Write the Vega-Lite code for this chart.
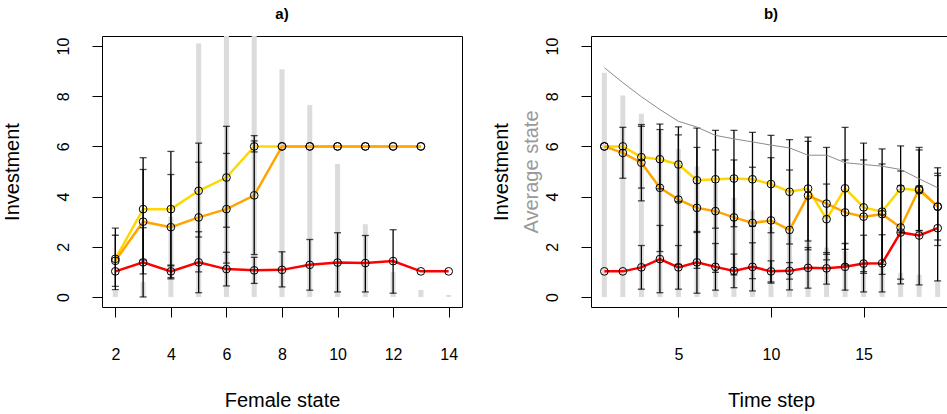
{
  "$schema": "https://vega.github.io/schema/vega-lite/v6.json",
  "padding": {"left": 1, "top": 6, "right": 0, "bottom": 0},
  "bounds": "flush",
  "spacing": 129,
  "config": {
    "view": {"stroke": "black", "strokeWidth": 1},
    "font": "Liberation Sans",
    "axis": {"domain": false, "grid": false, "tickColor": "black", "tickSize": 10, "tickWidth": 1,
      "labelFont": "Liberation Sans", "labelFontSize": 16, "labelColor": "black",
      "titleFont": "Liberation Sans", "titleFontSize": 20, "titleFontWeight": "normal", "titleColor": "black"},
    "axisX": {"labelPadding": 29, "titlePadding": 28},
    "axisY": {"labelAngle": 270, "labelAlign": "center", "labelBaseline": "bottom", "labelPadding": 21, "titlePadding": 33},
    "title": {"font": "Liberation Sans", "fontSize": 15, "fontWeight": "bold", "color": "black", "offset": 14}
  },
  "datasets": {
    "barsA": [
      {"x": 2, "v": 0.25}, {"x": 3, "v": 0.6}, {"x": 4, "v": 3.2}, {"x": 5, "v": 10.1}, {"x": 6, "v": 11}, {"x": 7, "v": 11},
      {"x": 8, "v": 9.07}, {"x": 9, "v": 7.65}, {"x": 10, "v": 5.3}, {"x": 11, "v": 2.9}, {"x": 12, "v": 1.0}, {"x": 13, "v": 0.28}, {"x": 14, "v": 0.08}
    ],
    "linesA": [
      {"s": "y", "x": 2, "v": 1.52}, {"s": "y", "x": 3, "v": 3.5}, {"s": "y", "x": 4, "v": 3.5}, {"s": "y", "x": 5, "v": 4.23}, {"s": "y", "x": 6, "v": 4.76}, {"s": "y", "x": 7, "v": 6}, {"s": "y", "x": 8, "v": 6}, {"s": "y", "x": 9, "v": 6}, {"s": "y", "x": 10, "v": 6}, {"s": "y", "x": 11, "v": 6}, {"s": "y", "x": 12, "v": 6}, {"s": "y", "x": 13, "v": 6},
      {"s": "o", "x": 2, "v": 1.44}, {"s": "o", "x": 3, "v": 3.0}, {"s": "o", "x": 4, "v": 2.78}, {"s": "o", "x": 5, "v": 3.17}, {"s": "o", "x": 6, "v": 3.5}, {"s": "o", "x": 7, "v": 4.05}, {"s": "o", "x": 8, "v": 6}, {"s": "o", "x": 9, "v": 6}, {"s": "o", "x": 10, "v": 6}, {"s": "o", "x": 11, "v": 6}, {"s": "o", "x": 12, "v": 6}, {"s": "o", "x": 13, "v": 6},
      {"s": "r", "x": 2, "v": 1.02}, {"s": "r", "x": 3, "v": 1.38}, {"s": "r", "x": 4, "v": 1.02}, {"s": "r", "x": 5, "v": 1.38}, {"s": "r", "x": 6, "v": 1.11}, {"s": "r", "x": 7, "v": 1.06}, {"s": "r", "x": 8, "v": 1.08}, {"s": "r", "x": 9, "v": 1.28}, {"s": "r", "x": 10, "v": 1.37}, {"s": "r", "x": 11, "v": 1.35}, {"s": "r", "x": 12, "v": 1.43}, {"s": "r", "x": 13, "v": 1.02}, {"s": "r", "x": 14, "v": 1.02}
    ],
    "errA": [
      {"x": 2, "lo": 0.29, "hi": 2.74}, {"x": 2, "lo": 0.42, "hi": 2.46},
      {"x": 3, "lo": 1.47, "hi": 5.55}, {"x": 3, "lo": 0.92, "hi": 5.08}, {"x": 3, "lo": 0.0, "hi": 2.76},
      {"x": 4, "lo": 1.24, "hi": 5.8}, {"x": 4, "lo": 0.72, "hi": 4.88}, {"x": 4, "lo": 0.77, "hi": 1.27},
      {"x": 5, "lo": 2.39, "hi": 6.13}, {"x": 5, "lo": 1.0, "hi": 5.37}, {"x": 5, "lo": 0.17, "hi": 2.6},
      {"x": 6, "lo": 2.78, "hi": 6.8}, {"x": 6, "lo": 1.35, "hi": 5.72}, {"x": 6, "lo": 0.44, "hi": 1.78},
      {"x": 7, "lo": 5.78, "hi": 6.22}, {"x": 7, "lo": 1.69, "hi": 6.43}, {"x": 7, "lo": 0.54, "hi": 1.58},
      {"x": 8, "lo": 0.4, "hi": 1.8}, {"x": 9, "lo": 0.27, "hi": 2.29}, {"x": 10, "lo": 0.2, "hi": 2.56},
      {"x": 11, "lo": 0.2, "hi": 2.45}, {"x": 12, "lo": 0.15, "hi": 2.68}
    ],
    "barsB": [
      {"x": 1, "v": 8.94}, {"x": 2, "v": 8.03}, {"x": 3, "v": 7.3}, {"x": 4, "v": 6.6}, {"x": 5, "v": 5.9}, {"x": 6, "v": 5.2}, {"x": 7, "v": 4.5}, {"x": 8, "v": 3.95}, {"x": 9, "v": 3.45}, {"x": 10, "v": 2.8},
      {"x": 11, "v": 2.6}, {"x": 12, "v": 2.3}, {"x": 13, "v": 1.97}, {"x": 14, "v": 1.84}, {"x": 15, "v": 1.5}, {"x": 16, "v": 1.23}, {"x": 17, "v": 0.96}, {"x": 18, "v": 0.89}, {"x": 19, "v": 0.66}
    ],
    "avgB": [
      {"x": 1, "v": 9.14}, {"x": 2, "v": 8.54}, {"x": 3, "v": 7.98}, {"x": 4, "v": 7.47}, {"x": 5, "v": 7.0}, {"x": 6, "v": 6.77}, {"x": 7, "v": 6.44}, {"x": 8, "v": 6.3}, {"x": 9, "v": 6.18}, {"x": 10, "v": 6.05},
      {"x": 11, "v": 5.94}, {"x": 12, "v": 5.65}, {"x": 13, "v": 5.65}, {"x": 14, "v": 5.35}, {"x": 15, "v": 5.28}, {"x": 16, "v": 5.21}, {"x": 17, "v": 5.08}, {"x": 18, "v": 4.71}, {"x": 19, "v": 4.35}
    ],
    "linesB": [
      {"s": "y", "x": 1, "v": 6.0}, {"s": "y", "x": 2, "v": 6.0}, {"s": "y", "x": 3, "v": 5.57}, {"s": "y", "x": 4, "v": 5.49}, {"s": "y", "x": 5, "v": 5.28}, {"s": "y", "x": 6, "v": 4.65}, {"s": "y", "x": 7, "v": 4.69}, {"s": "y", "x": 8, "v": 4.72}, {"s": "y", "x": 9, "v": 4.69}, {"s": "y", "x": 10, "v": 4.5},
      {"s": "y", "x": 11, "v": 4.19}, {"s": "y", "x": 12, "v": 4.32}, {"s": "y", "x": 13, "v": 3.1}, {"s": "y", "x": 14, "v": 4.33}, {"s": "y", "x": 15, "v": 3.57}, {"s": "y", "x": 16, "v": 3.4}, {"s": "y", "x": 17, "v": 4.32}, {"s": "y", "x": 18, "v": 4.25}, {"s": "y", "x": 19, "v": 3.6},
      {"s": "o", "x": 1, "v": 6.0}, {"s": "o", "x": 2, "v": 5.74}, {"s": "o", "x": 3, "v": 5.35}, {"s": "o", "x": 4, "v": 4.35}, {"s": "o", "x": 5, "v": 3.88}, {"s": "o", "x": 6, "v": 3.55}, {"s": "o", "x": 7, "v": 3.42}, {"s": "o", "x": 8, "v": 3.17}, {"s": "o", "x": 9, "v": 2.95}, {"s": "o", "x": 10, "v": 3.05},
      {"s": "o", "x": 11, "v": 2.67}, {"s": "o", "x": 12, "v": 4.04}, {"s": "o", "x": 13, "v": 3.72}, {"s": "o", "x": 14, "v": 3.37}, {"s": "o", "x": 15, "v": 3.2}, {"s": "o", "x": 16, "v": 3.3}, {"s": "o", "x": 17, "v": 2.77}, {"s": "o", "x": 18, "v": 4.3}, {"s": "o", "x": 19, "v": 3.6},
      {"s": "r", "x": 1, "v": 1.02}, {"s": "r", "x": 2, "v": 1.02}, {"s": "r", "x": 3, "v": 1.18}, {"s": "r", "x": 4, "v": 1.51}, {"s": "r", "x": 5, "v": 1.18}, {"s": "r", "x": 6, "v": 1.38}, {"s": "r", "x": 7, "v": 1.2}, {"s": "r", "x": 8, "v": 1.04}, {"s": "r", "x": 9, "v": 1.2}, {"s": "r", "x": 10, "v": 1.02},
      {"s": "r", "x": 11, "v": 1.04}, {"s": "r", "x": 12, "v": 1.16}, {"s": "r", "x": 13, "v": 1.14}, {"s": "r", "x": 14, "v": 1.2}, {"s": "r", "x": 15, "v": 1.33}, {"s": "r", "x": 16, "v": 1.34}, {"s": "r", "x": 17, "v": 2.57}, {"s": "r", "x": 18, "v": 2.45}, {"s": "r", "x": 19, "v": 2.74}
    ],
    "errB": [
      {"x": 2, "lo": 4.73, "hi": 6.76},
      {"x": 3, "lo": 4.34, "hi": 6.8}, {"x": 3, "lo": 3.83, "hi": 6.87}, {"x": 3, "lo": 0.31, "hi": 2.05},
      {"x": 4, "lo": 4.31, "hi": 6.67}, {"x": 4, "lo": 1.81, "hi": 6.89}, {"x": 4, "lo": 0.17, "hi": 2.85},
      {"x": 5, "lo": 3.8, "hi": 6.78}, {"x": 5, "lo": 1.3, "hi": 6.46}, {"x": 5, "lo": 0.31, "hi": 2.05},
      {"x": 6, "lo": 2.57, "hi": 6.73}, {"x": 6, "lo": 1.14, "hi": 5.96}, {"x": 6, "lo": 0.15, "hi": 2.61},
      {"x": 7, "lo": 2.74, "hi": 6.64}, {"x": 7, "lo": 0.98, "hi": 5.86}, {"x": 7, "lo": 0.27, "hi": 2.13},
      {"x": 8, "lo": 2.8, "hi": 6.64}, {"x": 8, "lo": 0.88, "hi": 5.46}, {"x": 8, "lo": 0.37, "hi": 1.71},
      {"x": 9, "lo": 2.82, "hi": 6.56}, {"x": 9, "lo": 0.73, "hi": 5.17}, {"x": 9, "lo": 0.24, "hi": 2.16},
      {"x": 10, "lo": 2.56, "hi": 6.44}, {"x": 10, "lo": 0.55, "hi": 5.55}, {"x": 10, "lo": 0.6, "hi": 1.44},
      {"x": 11, "lo": 2.11, "hi": 6.27}, {"x": 11, "lo": 0.28, "hi": 5.06}, {"x": 11, "lo": 0.71, "hi": 1.37},
      {"x": 12, "lo": 2.23, "hi": 6.37}, {"x": 12, "lo": 1.88, "hi": 6.2}, {"x": 12, "lo": 0.35, "hi": 1.97},
      {"x": 13, "lo": 1.7, "hi": 4.5}, {"x": 13, "lo": 1.48, "hi": 5.96}, {"x": 13, "lo": 0.51, "hi": 1.77},
      {"x": 14, "lo": 1.9, "hi": 6.76}, {"x": 14, "lo": 1.28, "hi": 5.46}, {"x": 14, "lo": 0.27, "hi": 2.13},
      {"x": 15, "lo": 1.01, "hi": 6.13}, {"x": 15, "lo": 0.94, "hi": 5.46}, {"x": 15, "lo": 0.2, "hi": 2.46},
      {"x": 16, "lo": 0.9, "hi": 5.9}, {"x": 16, "lo": 1.3, "hi": 5.3}, {"x": 16, "lo": 0.2, "hi": 2.48},
      {"x": 17, "lo": 2.58, "hi": 6.02}, {"x": 17, "lo": 0.52, "hi": 5.02}, {"x": 17, "lo": 0.71, "hi": 4.43},
      {"x": 18, "lo": 2.65, "hi": 5.86}, {"x": 18, "lo": 2.64, "hi": 5.96}, {"x": 18, "lo": 0.48, "hi": 4.42},
      {"x": 19, "lo": 2.05, "hi": 5.15}, {"x": 19, "lo": 2.27, "hi": 4.93}, {"x": 19, "lo": 0.64, "hi": 4.84}
    ]
  },
  "hconcat": [
    {
      "width": 360, "height": 271,
      "title": {"text": "a)"},
      "encoding": {
        "x": {"field": "x", "type": "quantitative", "scale": {"domain": [1.52, 14.48], "nice": false, "zero": false},
          "axis": {"values": [2, 4, 6, 8, 10, 12, 14], "title": "Female state"}},
        "y": {"field": "v", "type": "quantitative", "scale": {"domain": [-0.4, 10.4], "nice": false, "zero": false},
          "axis": {"values": [0, 2, 4, 6, 8, 10], "title": "Investment"}}
      },
      "layer": [
        {"data": {"name": "barsA"}, "mark": {"type": "rule", "strokeWidth": 5, "color": "#DCDCDC", "clip": true, "strokeCap": "butt"},
          "encoding": {"y2": {"datum": 0}}},
        {"data": {"name": "linesA"}, "mark": {"type": "line", "strokeWidth": 2.5},
          "encoding": {"color": {"field": "s", "type": "nominal", "scale": {"domain": ["y", "o", "r"], "range": ["#FFD700", "#FFA500", "#FF0000"]}, "legend": null, "sort": null}}},
        {"data": {"name": "errA"}, "mark": {"type": "rule", "strokeWidth": 1.3, "color": "black"},
          "encoding": {"y": {"field": "lo", "type": "quantitative"}, "y2": {"field": "hi"}}},
        {"data": {"name": "errA"}, "transform": [{"fold": ["lo", "hi"], "as": ["k", "cv"]}],
          "mark": {"type": "tick", "orient": "horizontal", "size": 7, "thickness": 1.3, "color": "black"},
          "encoding": {"y": {"field": "cv", "type": "quantitative"}}},
        {"data": {"name": "linesA"}, "mark": {"type": "point", "shape": "circle", "filled": false, "size": 60, "strokeWidth": 1, "color": "black", "opacity": 1}}
      ]
    },
    {
      "width": 360, "height": 271,
      "title": {"text": "b)"},
      "resolve": {"scale": {"y": "independent"}, "axis": {"y": "independent"}},
      "layer": [
        {
          "encoding": {
            "x": {"field": "x", "type": "quantitative", "scale": {"domain": [0.28, 19.72], "nice": false, "zero": false},
              "axis": {"values": [5, 10, 15], "title": "Time step"}},
            "y": {"field": "v", "type": "quantitative", "scale": {"domain": [-0.4, 10.4], "nice": false, "zero": false},
              "axis": {"values": [0, 2, 4, 6, 8, 10], "title": "Investment", "orient": "left"}}
          },
          "layer": [
            {"data": {"name": "barsB"}, "mark": {"type": "rule", "strokeWidth": 5, "color": "#DCDCDC", "clip": true, "strokeCap": "butt"},
              "encoding": {"y2": {"datum": 0}}},
            {"data": {"name": "linesB"}, "mark": {"type": "line", "strokeWidth": 2.5},
              "encoding": {"color": {"field": "s", "type": "nominal", "scale": {"domain": ["y", "o", "r"], "range": ["#FFD700", "#FFA500", "#FF0000"]}, "legend": null, "sort": null}}},
            {"data": {"name": "errB"}, "mark": {"type": "rule", "strokeWidth": 1.3, "color": "black"},
              "encoding": {"y": {"field": "lo", "type": "quantitative"}, "y2": {"field": "hi"}}},
            {"data": {"name": "errB"}, "transform": [{"fold": ["lo", "hi"], "as": ["k", "cv"]}],
              "mark": {"type": "tick", "orient": "horizontal", "size": 7, "thickness": 1.3, "color": "black"},
              "encoding": {"y": {"field": "cv", "type": "quantitative"}}},
            {"data": {"name": "linesB"}, "mark": {"type": "point", "shape": "circle", "filled": false, "size": 60, "strokeWidth": 1, "color": "black", "opacity": 1}}
          ]
        },
        {
          "data": {"name": "avgB"},
          "mark": {"type": "line", "color": "#8C8C8C", "strokeWidth": 1},
          "encoding": {
            "x": {"field": "x", "type": "quantitative", "scale": {"domain": [0.28, 19.72], "nice": false, "zero": false}},
            "y": {"field": "v", "type": "quantitative", "scale": {"domain": [-0.4, 10.4], "nice": false, "zero": false},
              "axis": {"orient": "left", "title": "Average state", "titleColor": "#999999", "labels": false, "ticks": false, "domain": false, "titlePadding": 50}}
          }
        }
      ]
    }
  ]
}
